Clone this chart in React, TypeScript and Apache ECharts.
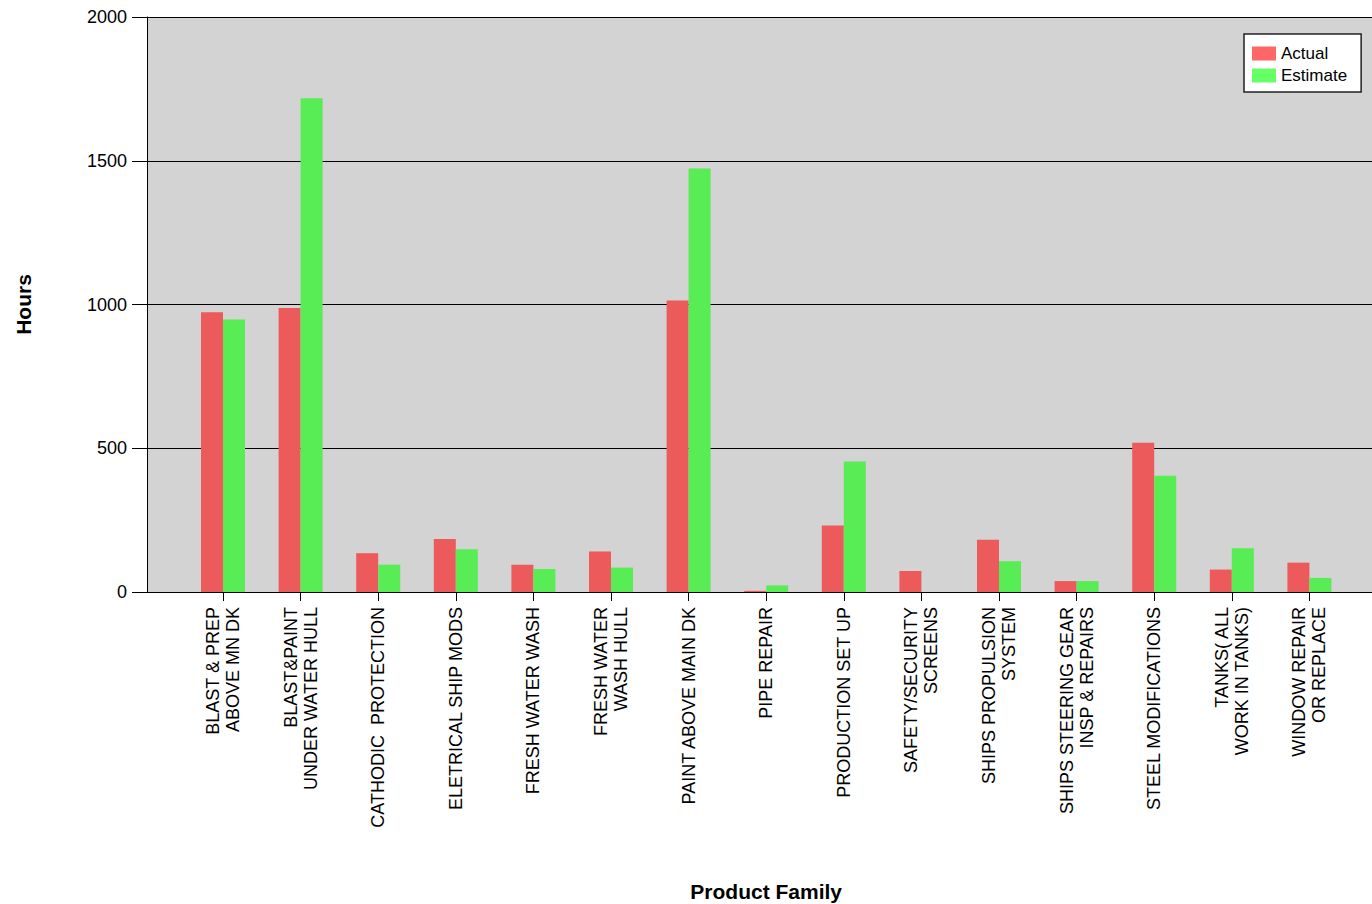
import React, { useEffect, useRef } from "react";
import * as echarts from "echarts";

// Product families along the category axis
const categories: string[] = [
  "BLAST & PREP\nABOVE MN DK",
  "BLAST&PAINT\nUNDER WATER HULL",
  "CATHODIC  PROTECTION",
  "ELETRICAL SHIP MODS",
  "FRESH WATER WASH",
  "FRESH WATER\nWASH HULL",
  "PAINT ABOVE MAIN DK",
  "PIPE REPAIR",
  "PRODUCTION SET UP",
  "SAFETY/SECURITY\nSCREENS",
  "SHIPS PROPULSION\nSYSTEM",
  "SHIPS STEERING GEAR\nINSP & REPAIRS",
  "STEEL MODIFICATIONS",
  "TANKS( ALL\nWORK IN TANKS)",
  "WINDOW REPAIR\nOR REPLACE",
];

// Hours per product family
const actualHours: number[] = [973, 988, 135, 184, 95, 141, 1014, 4, 231, 73, 182, 38, 519, 78, 102];
const estimateHours: number[] = [948, 1717, 95, 149, 80, 85, 1473, 23, 454, 0, 107, 38, 404, 152, 49];

const yMin = 0;
const yMax = 2000;
const yStep = 500;

const FONT = '"Liberation Sans", Arial, sans-serif';

export default function App() {
  const ref = useRef<HTMLDivElement>(null);

  useEffect(() => {
    if (!ref.current) return;
    const chart = echarts.init(ref.current, undefined, { renderer: "svg" });

    chart.setOption({
      animation: false,
      backgroundColor: "#ffffff",
      textStyle: { fontFamily: FONT, color: "#000" },
      grid: [
        {
          // plot frame: grey panel, value axis and gridlines
          left: 147,
          top: 17,
          width: 1225,
          height: 575,
          show: true,
          backgroundColor: "#d3d3d3",
          borderWidth: 0,
          containLabel: false,
          outerBoundsMode: "none",
        },
        {
          // band area holding the bars
          left: 184.2,
          top: 17,
          width: 1164,
          height: 575,
          containLabel: false,
          outerBoundsMode: "none",
        },
      ],
      legend: {
        orient: "vertical",
        left: 1244,
        top: 34,
        width: 120,
        padding: [11, 14, 8, 8],
        itemGap: 5,
        itemWidth: 24,
        itemHeight: 14,
        backgroundColor: "#ffffff",
        borderColor: "#222",
        borderWidth: 1.5,
        borderRadius: 0,
        textStyle: { fontFamily: FONT, fontSize: 17, color: "#000" },
        data: [
          { name: "Actual", icon: "rect", itemStyle: { color: "#ff6666" } },
          { name: "Estimate", icon: "rect", itemStyle: { color: "#66ff66" } },
        ],
      },
      xAxis: [
        {
          gridIndex: 0,
          type: "value",
          min: 0,
          max: 1,
          axisLine: { show: true, lineStyle: { color: "#000", width: 1 } },
          axisTick: { show: false },
          axisLabel: { show: false },
          splitLine: { show: false },
        },
        {
          gridIndex: 1,
          type: "category",
          data: categories,
          boundaryGap: true,
          axisLine: { show: false },
          axisTick: {
            show: true,
            alignWithLabel: true,
            length: 9,
            lineStyle: { color: "#000", width: 1 },
          },
          axisLabel: {
            interval: 0,
            rotate: 90,
            margin: 15,
            fontSize: 18,
            fontFamily: FONT,
            color: "#000",
            lineHeight: 20,
          },
          name: "Product Family",
          nameLocation: "middle",
          nameGap: 289,
          nameTextStyle: {
            fontFamily: FONT,
            fontSize: 21,
            fontWeight: "bold",
            color: "#000",
          },
        },
      ],
      yAxis: [
        {
          gridIndex: 0,
          type: "value",
          min: yMin,
          max: yMax,
          interval: yStep,
          axisLine: { show: true, lineStyle: { color: "#000", width: 1 } },
          axisTick: { show: true, length: 15, lineStyle: { color: "#000", width: 1 } },
          axisLabel: {
            margin: 20,
            fontSize: 18,
            fontFamily: FONT,
            color: "#000",
            formatter: (v: number) => String(v),
          },
          splitLine: { show: true, lineStyle: { color: "#000", width: 1 } },
          name: "Hours",
          nameLocation: "middle",
          nameGap: 113,
          nameRotate: 90,
          nameTextStyle: {
            fontFamily: FONT,
            fontSize: 21,
            fontWeight: "bold",
            color: "#000",
          },
        },
        {
          gridIndex: 1,
          type: "value",
          min: yMin,
          max: yMax,
          interval: yStep,
          show: false,
        },
      ],
      series: [
        {
          name: "Actual",
          type: "bar",
          xAxisIndex: 1,
          yAxisIndex: 1,
          data: actualHours,
          barWidth: 22,
          barGap: "0%",
          itemStyle: { color: "#ec5a5c" },
        },
        {
          name: "Estimate",
          type: "bar",
          xAxisIndex: 1,
          yAxisIndex: 1,
          data: estimateHours,
          barWidth: 22,
          barGap: "0%",
          itemStyle: { color: "#58ec55" },
        },
      ],
    });

    return () => chart.dispose();
  }, []);

  return (
    <div
      ref={ref}
      style={{ position: "absolute", left: 0, top: 0, width: 1372, height: 904 }}
    />
  );
}
